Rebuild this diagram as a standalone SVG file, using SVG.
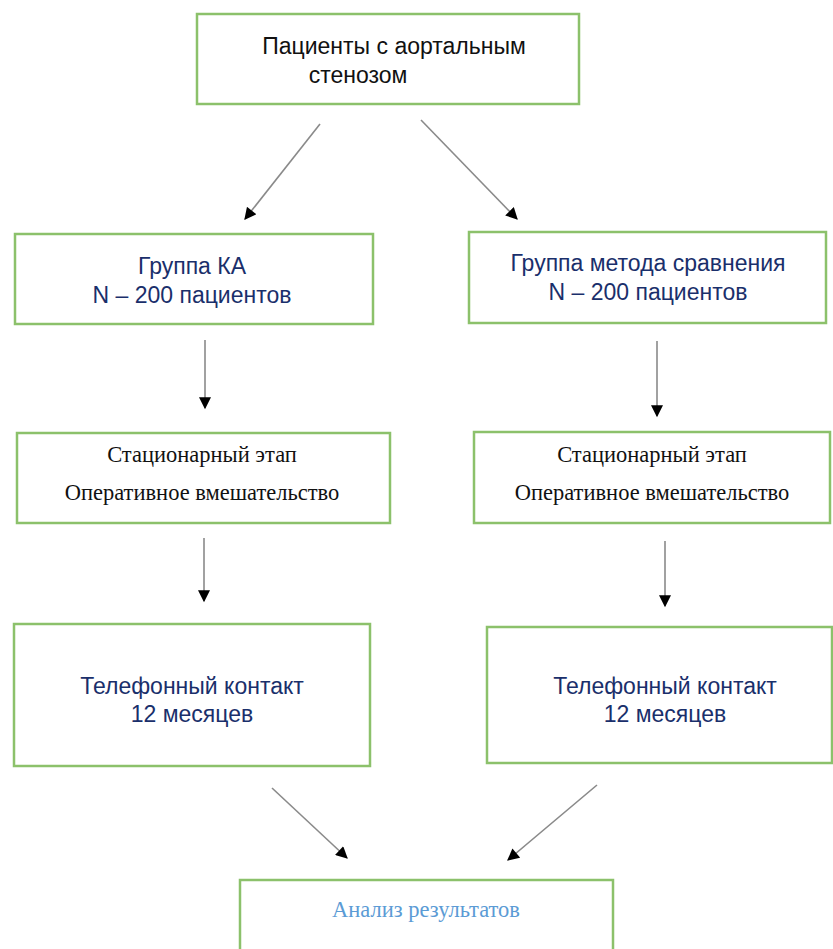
<svg xmlns="http://www.w3.org/2000/svg" width="833" height="949" viewBox="0 0 833 949">
<style>
.box{fill:#ffffff;stroke:#8cc16b;stroke-width:2.5}
.sans{font-family:"Liberation Sans","Open Sans",sans-serif;font-size:23px;text-anchor:middle}
.navy{fill:#1a2f6b}
.blk{fill:#111111}
.serif{font-family:"Liberation Serif","Times New Roman",serif;font-size:22.5px;text-anchor:middle;fill:#111111}
.blue{font-family:"Liberation Serif","Times New Roman",serif;font-size:22.5px;text-anchor:middle;fill:#5b9bd5}
.conn{stroke:#8a8a8a;stroke-width:1.6;fill:none;marker-end:url(#ah)}
</style>
<defs>
<marker id="ah" viewBox="0 0 10 10" refX="9" refY="5" markerWidth="13" markerHeight="12" markerUnits="userSpaceOnUse" orient="auto">
<path d="M0,0 L10,5 L0,10 z" fill="#000000"/>
</marker>
</defs>
<rect width="833" height="949" fill="#ffffff"/>
<g id="n-patients">
<rect class="box" x="197" y="14" width="382" height="90"/>
<text class="sans blk" x="394" y="54">Пациенты с аортальным</text>
<text class="sans blk" x="358" y="83">стенозом</text>
</g>
<g id="n-group-ka">
<rect class="box" x="15" y="234" width="358" height="90"/>
<text class="sans navy" x="192" y="274">Группа КА</text>
<text class="sans navy" x="192" y="303">N – 200 пациентов</text>
</g>
<g id="n-group-cmp">
<rect class="box" x="469" y="232" width="357" height="91"/>
<text class="sans navy" x="648" y="271">Группа метода сравнения</text>
<text class="sans navy" x="648" y="300">N – 200 пациентов</text>
</g>
<g id="n-stat-left">
<rect class="box" x="17" y="433" width="373" height="90"/>
<text class="serif" x="202" y="462">Стационарный этап</text>
<text class="serif" x="202" y="500">Оперативное вмешательство</text>
</g>
<g id="n-stat-right">
<rect class="box" x="474" y="432" width="356" height="91"/>
<text class="serif" x="652" y="462">Стационарный этап</text>
<text class="serif" x="652" y="500">Оперативное вмешательство</text>
</g>
<g id="n-phone-left">
<rect class="box" x="14" y="624" width="356" height="142"/>
<text class="sans navy" x="192" y="694">Телефонный контакт</text>
<text class="sans navy" x="192" y="722">12 месяцев</text>
</g>
<g id="n-phone-right">
<rect class="box" x="487" y="627" width="345" height="136"/>
<text class="sans navy" x="665" y="694">Телефонный контакт</text>
<text class="sans navy" x="665" y="722">12 месяцев</text>
</g>
<g id="n-analysis">
<rect class="box" x="240" y="880" width="373" height="80"/>
<text class="blue" x="426" y="917">Анализ результатов</text>
</g>
<g id="connectors">
<line class="conn" x1="320" y1="124" x2="245" y2="219"/>
<line class="conn" x1="421" y1="120" x2="517" y2="219"/>
<line class="conn" x1="205" y1="340" x2="205" y2="408"/>
<line class="conn" x1="657" y1="341" x2="657" y2="416"/>
<line class="conn" x1="204" y1="538" x2="204" y2="601"/>
<line class="conn" x1="665" y1="541" x2="665" y2="606"/>
<line class="conn" x1="272" y1="788" x2="347" y2="858"/>
<line class="conn" x1="597" y1="785" x2="508" y2="860"/>
</g>
</svg>
